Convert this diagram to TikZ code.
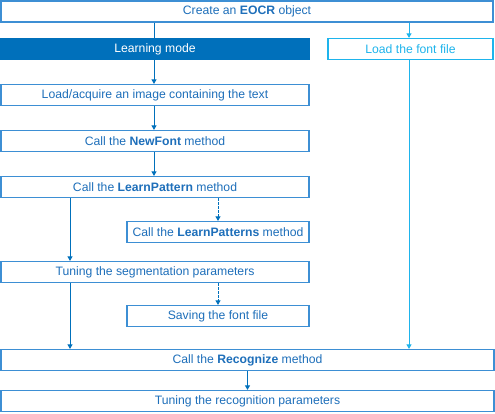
\documentclass[tikz,border=0pt]{standalone}
\usepackage{fontspec}
\setmainfont{Liberation Sans}
\usetikzlibrary{arrows.meta,calc}
\definecolor{txtblue}{HTML}{1E6FBA}
\definecolor{bordblue}{HTML}{3D8FD4}
\definecolor{darkblue}{HTML}{0070BB}
\definecolor{cyanblue}{HTML}{1EB4EC}
\tikzset{
  box/.style={draw=bordblue, line width=1.2pt, fill=white, text=txtblue, inner sep=0pt,
    minimum height=21pt, font=\fontsize{12.2}{14}\selectfont},
  darkbox/.style={box, draw=darkblue, fill=darkblue, text=white},
  cyanbox/.style={box, draw=cyanblue, text=cyanblue},
  conn/.style={draw=darkblue, line width=0.9pt},
  arr/.style={conn, -{Triangle[length=4.5pt,width=5pt]}},
  darr/.style={arr, dash pattern=on 2.5pt off 1.5pt},
  carr/.style={arr, draw=cyanblue, fill=cyanblue},
}
\begin{document}
\begin{tikzpicture}[x=1pt,y=-1pt]
\useasboundingbox (0,0) rectangle (495,414);
\node[box, minimum width=492pt] (create) at (247,11.5) {Create an \textbf{EOCR} object};
\node[darkbox, minimum width=308pt] (learning) at (155,49) {Learning mode};
\node[cyanbox, minimum width=165pt] (fontfile) at (410.5,49) {Load the font file};
\node[box, minimum width=308pt] (load) at (155,95) {Load/acquire an image containing the text};
\node[box, minimum width=308pt] (newfont) at (155,141) {Call the \textbf{NewFont} method};
\node[box, minimum width=308pt] (learnp) at (155,187) {Call the \textbf{LearnPattern} method};
\node[box, minimum width=182pt] (learnps) at (218,232) {Call the \textbf{LearnPatterns} method};
\node[box, minimum width=308pt] (tuneseg) at (155,272) {Tuning the segmentation parameters};
\node[box, minimum width=182pt] (saving) at (218,316) {Saving the font file};
\node[box, minimum width=493pt] (recog) at (247.5,360) {Call the \textbf{Recognize} method};
\node[box, minimum width=493pt] (tunerec) at (247.5,401) {Tuning the recognition parameters};
\coordinate (c70) at (70,0);
\coordinate (c154) at (154,0);
\coordinate (c409) at (409,0);
\draw[conn] (create.south -| c154) -- (learning.north -| c154);
\draw[carr] (create.south -| c409) -- (fontfile.north -| c409);
\draw[arr] (learning.south -| c154) -- (load.north -| c154);
\draw[arr] (load.south -| c154) -- (newfont.north -| c154);
\draw[arr] (newfont.south -| c154) -- (learnp.north -| c154);
\draw[arr] (learnp.south -| c70) -- (tuneseg.north -| c70);
\draw[darr] (learnp.south -| learnps.north) -- (learnps.north);
\draw[darr] (tuneseg.south -| saving.north) -- (saving.north);
\draw[arr] (tuneseg.south -| c70) -- (recog.north -| c70);
\draw[carr] (fontfile.south -| c409) -- (recog.north -| c409);
\draw[arr] (recog.south -| tunerec.north) -- (tunerec.north);
\end{tikzpicture}
\end{document}
